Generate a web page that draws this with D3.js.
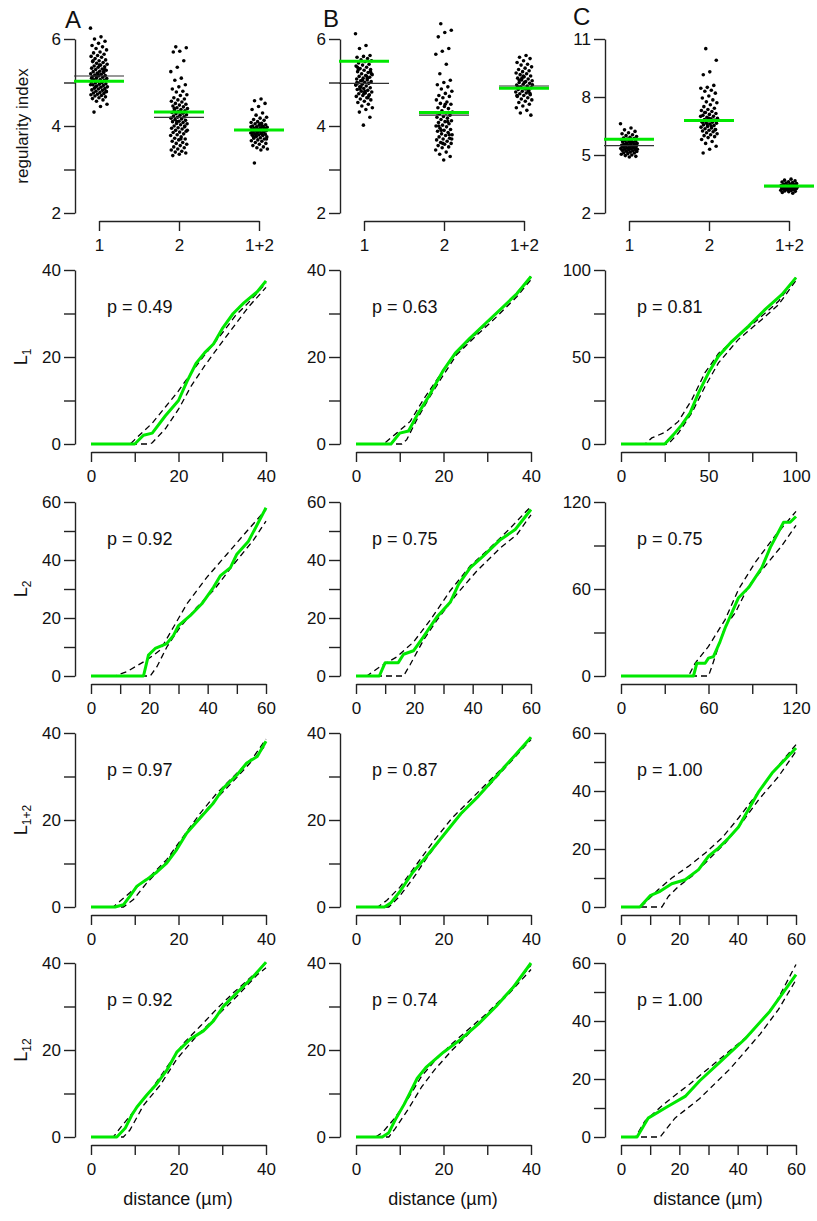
<!DOCTYPE html>
<html>
<head>
<meta charset="utf-8">
<script src="https://cdn.jsdelivr.net/npm/d3@7"></script>
<style>
body { margin: 0; background: #fff; }
svg text { font-family: "Liberation Sans", Arial, Helvetica, sans-serif; fill: #111; }
</style>
</head>
<body>
<svg id="fig" width="817" height="1221"></svg>
<script>
// ---- regularity index (top row) ----
const groups = ["1", "2", "1+2"];
const panelLetters = ["A", "B", "C"];

const riA1 = [6.25,6.05,6.0,5.95,5.9,5.85,5.82,5.78,5.75,5.7,5.68,5.65,5.62,5.6,5.58,5.55,5.52,5.5,5.48,5.46,5.44,5.42,5.4,5.38,5.36,5.35,5.33,5.31,5.3,5.28,5.26,5.25,5.23,5.22,5.2,5.19,5.17,5.16,5.15,5.13,5.12,5.1,5.09,5.07,5.06,5.05,5.03,5.02,5.0,4.99,4.97,4.96,4.95,4.93,4.92,4.9,4.89,4.87,4.86,4.85,4.83,4.82,4.8,4.79,4.77,4.76,4.75,4.73,4.72,4.7,4.69,4.67,4.65,4.63,4.6,4.57,4.5,4.45,4.32,5.3,5.2,5.1,5.0,4.9,4.8,5.4,5.5,5.25,5.15,4.95];
const riA2 = [5.82,5.8,5.72,5.7,5.5,5.35,5.25,5.1,5.05,4.95,4.9,4.85,4.8,4.78,4.72,4.7,4.65,4.62,4.6,4.57,4.55,4.52,4.5,4.48,4.46,4.44,4.42,4.4,4.38,4.36,4.35,4.33,4.31,4.3,4.28,4.26,4.25,4.23,4.21,4.2,4.18,4.16,4.15,4.13,4.11,4.1,4.08,4.06,4.05,4.03,4.0,3.98,3.96,3.95,3.93,3.9,3.88,3.86,3.85,3.82,3.8,3.78,3.75,3.72,3.7,3.68,3.65,3.62,3.6,3.58,3.55,3.52,3.5,3.47,3.45,3.42,3.4,3.38,3.35,3.32,4.3,4.1,3.9,3.7,4.4,4.0];
const riA3 = [4.62,4.58,4.52,4.45,4.38,4.3,4.25,4.2,4.18,4.15,4.13,4.1,4.08,4.06,4.05,4.03,4.02,4.0,3.99,3.98,3.97,3.96,3.95,3.94,3.93,3.92,3.91,3.9,3.89,3.88,3.87,3.86,3.85,3.84,3.83,3.82,3.81,3.8,3.79,3.78,3.76,3.75,3.73,3.72,3.7,3.68,3.66,3.65,3.62,3.6,3.58,3.55,3.52,3.5,3.47,3.45,3.15,3.95,3.9,3.85,4.0,3.8,3.7,4.05,3.75,3.88,3.92,3.98,3.82];
const riB1 = [6.12,5.85,5.78,5.62,5.6,5.58,5.55,5.52,5.5,5.48,5.45,5.42,5.4,5.38,5.35,5.32,5.3,5.28,5.25,5.23,5.2,5.18,5.16,5.14,5.12,5.1,5.08,5.06,5.04,5.02,5.0,4.99,4.98,4.96,4.94,4.92,4.9,4.88,4.86,4.84,4.82,4.8,4.78,4.76,4.74,4.72,4.7,4.68,4.65,4.62,4.6,4.57,4.54,4.5,4.46,4.42,4.38,4.32,4.2,4.02,5.0,5.1,4.9,5.2,4.8,5.3,4.7,5.05,4.95,5.15,4.85,5.25,4.75,5.35,4.65];
const riB2 = [6.35,6.2,6.15,6.05,5.78,5.72,5.65,5.42,5.2,5.05,5.0,4.95,4.9,4.85,4.8,4.75,4.7,4.68,4.65,4.6,4.55,4.52,4.5,4.45,4.42,4.4,4.35,4.32,4.3,4.28,4.25,4.22,4.2,4.18,4.15,4.12,4.1,4.08,4.05,4.02,4.0,3.98,3.95,3.92,3.9,3.88,3.85,3.82,3.8,3.78,3.75,3.72,3.7,3.68,3.65,3.62,3.6,3.58,3.55,3.52,3.5,3.45,3.4,3.35,3.3,3.22,4.3,4.1,3.9,3.7,4.5,4.0,3.8,3.6];
const riB3 = [5.62,5.58,5.55,5.5,5.46,5.42,5.4,5.36,5.33,5.3,5.27,5.25,5.22,5.2,5.18,5.15,5.13,5.1,5.08,5.06,5.04,5.02,5.0,4.98,4.96,4.94,4.92,4.9,4.88,4.86,4.84,4.82,4.8,4.78,4.76,4.74,4.72,4.7,4.68,4.65,4.62,4.6,4.57,4.54,4.5,4.46,4.42,4.36,4.3,4.25,5.0,4.9,4.8,5.1,4.95,4.85,5.05,4.75,5.15,4.7];
const riC1 = [6.62,6.4,6.3,6.22,6.15,6.1,6.05,6.0,5.96,5.92,5.88,5.85,5.82,5.8,5.77,5.75,5.72,5.7,5.68,5.65,5.62,5.6,5.58,5.56,5.54,5.52,5.5,5.48,5.46,5.44,5.42,5.4,5.38,5.36,5.34,5.32,5.3,5.28,5.26,5.24,5.22,5.2,5.18,5.15,5.12,5.1,5.07,5.04,5.0,4.97,4.93,4.9,5.5,5.4,5.6,5.3,5.7,5.45,5.55,5.35];
const riC2 = [10.5,9.9,9.3,9.15,8.6,8.5,8.45,8.35,8.3,8.2,8.05,7.95,7.85,7.75,7.7,7.6,7.5,7.42,7.35,7.3,7.25,7.2,7.15,7.1,7.05,7.0,6.95,6.9,6.87,6.84,6.8,6.77,6.74,6.7,6.67,6.64,6.6,6.56,6.52,6.48,6.44,6.4,6.36,6.32,6.28,6.24,6.2,6.15,6.1,6.05,6.0,5.95,5.9,5.8,5.7,5.6,5.45,5.3,5.1,6.8,6.6,7.0,6.5,7.2,6.3,6.9,6.7];
const riC3 = [3.75,3.7,3.66,3.62,3.6,3.57,3.55,3.52,3.5,3.48,3.46,3.44,3.42,3.41,3.4,3.39,3.38,3.37,3.36,3.35,3.34,3.33,3.32,3.31,3.3,3.29,3.28,3.27,3.26,3.25,3.24,3.22,3.2,3.18,3.16,3.14,3.12,3.1,3.06,3.02,3.35,3.3,3.4,3.25,3.45,3.2,3.38,3.32];

// green = expected, black = observed centre line
const riGreen = [[5.03, 4.32, 3.91], [5.49, 4.31, 4.87], [5.81, 6.78, 3.40]];
const riBlack = [[5.15, 4.20, 3.90], [4.98, 4.25, 4.92], [5.48, 6.75, 3.36]];
const riDomain = [[2, 6], [2, 6], [2, 11]];
const riTicks = [[2, 3, 4, 5, 6], [2, 3, 4, 5, 6], [2, 5, 8, 11]];
const riTickLabels = [[2, 4, 6], [2, 4, 6], [2, 5, 8, 11]];

// ---- L functions: [distance, L] ----
const l1A_obs = [[0,0],[10,0],[12,2],[14,2.5],[17,6.5],[20,10],[22,14.5],[24,18.5],[26,21],[28,23],[30,26.5],[32.5,30],[35,32.5],[38,35],[40,37.5]];
const l1A_hi = [[0,0],[9,0],[10,1],[14,4.8],[17,8.5],[20,12.2],[23,16.5],[26,20.5],[30,25.5],[33,29.5],[36,32.5],[40,37]];
const l1A_lo = [[0,0],[13.5,0],[14,0.3],[17,3.5],[20,8],[23,13.5],[26,18],[30,23.5],[33,27.5],[36,31.5],[40,36]];
const l1B_obs = [[0,0],[8,0],[10,2.5],[12,3],[14,6.7],[16.6,10.9],[20,17],[22.7,20.9],[26,24.3],[30,28.1],[33.7,31.6],[36.8,34.6],[40,38.5]];
const l1B_hi = [[0,0],[6.3,0],[9.3,2.5],[12.4,5.2],[15.4,10.2],[18.5,14.8],[21.5,19.3],[26,23.9],[30.7,28.5],[35.3,33.1],[40,38.5]];
const l1B_lo = [[0,0],[10.5,0],[11.6,1],[13.9,5.6],[16.9,10.9],[20,15.9],[23,20.5],[27.6,25],[32.2,29.3],[36.8,33.9],[40,37.8]];
const l1C_obs = [[0,0],[25,0],[30,5.4],[34.7,11],[39.5,17.9],[44.3,29.4],[50,40.9],[55.7,50.5],[63.4,59],[72.9,67.8],[82.4,77.4],[92,86],[100,95.6]];
const l1C_hi = [[0,0],[13.7,0],[17.6,3.5],[25.2,6.7],[32.8,13],[40.5,25.5],[48,41],[55.7,52],[67,62],[80.5,73.5],[90,82],[100,95.6]];
const l1C_lo = [[0,0],[27,0],[32.8,6.3],[40.5,17.9],[48,33],[55.7,46.6],[67,60],[80.5,71.6],[90,80],[100,94]];

const l2A_obs = [[0,0],[18,0],[19.7,7.2],[22,9.5],[26,11.2],[28.3,14],[30,17.4],[34,20.8],[38,24.9],[42,30.6],[44.3,34.5],[47.8,37.4],[50,42],[54,46.5],[60,58]];
const l2A_hi = [[0,0],[8.2,0],[12.3,1.5],[19.1,5.5],[23.7,8.9],[28.3,16.9],[32.9,24.9],[39.7,34],[46.6,42],[53.5,50],[60,57.4]];
const l2A_lo = [[0,0],[20.3,0],[22.6,3.2],[26,10],[30.6,16.9],[36.3,23.7],[42,29.5],[48.9,38.5],[55.8,47],[60,53.4]];
const l2B_obs = [[0,0],[8,0],[10,4.6],[14.5,4.6],[16.3,7.5],[19.7,8.7],[23.1,13.5],[27.7,20.3],[32.3,25.4],[35.2,31.7],[39.2,37.4],[43.7,41.4],[49.5,47],[54.6,50.5],[60,57.4]];
const l2B_hi = [[0,0],[3.7,0],[8.2,3.2],[14,6.6],[19.7,11.7],[25.4,19.2],[32.3,29.4],[39.2,38],[46,44.2],[52.9,51],[60,58.5]];
const l2B_lo = [[0,0],[16.3,0],[18.5,3.8],[23.1,12.3],[27.7,19.2],[34.6,28.3],[41.5,36.3],[49.5,44.2],[55.2,48.8],[60,55.6]];
const l2C_obs = [[0,0],[49.7,0],[52,8.8],[57.7,8.8],[60,12.3],[63.4,13.4],[68,23.9],[71.4,33.1],[76,43.5],[80.6,54],[87.5,61],[96.6,74.8],[102.4,88.7],[111.5,106],[116,106],[120,110]];
const l2C_hi = [[0,0],[46.3,0],[50.8,8.8],[60,20.4],[71.4,38.9],[80.6,59.8],[92,78.3],[105.8,96.8],[120,113.5]];
const l2C_lo = [[0,0],[60,0],[62.3,6.5],[71.4,34.3],[78.3,43.5],[87.5,62],[99,76],[110.4,90],[120,103.8]];

const l1p2A_obs = [[0,0],[5.5,0],[7.4,0.5],[8.9,2.5],[10.5,4.8],[12.7,6.3],[15,8],[17.3,10.1],[19.6,13.2],[21.9,17],[25,20.5],[28,23.9],[30.3,27.4],[33.4,30.4],[35.6,33.1],[38,34.6],[40,38.1]];
const l1p2A_hi = [[0,0],[5.1,0],[6.6,1.3],[9.7,4],[13.5,7],[17.3,10.9],[21.1,16.2],[25,21.6],[28.8,26.2],[32.6,30],[37.2,34.6],[40,38.6]];
const l1p2A_lo = [[0,0],[7.4,0],[9.7,1.7],[12.7,5.5],[16.6,9.5],[19.6,13.7],[23.4,19],[28,24.2],[32.6,29],[37.2,34],[40,37.3]];
const l1p2B_obs = [[0,0],[6.5,0],[8,1],[10,3.5],[13,8],[16,11.5],[20,16.5],[24,21.5],[28,25.5],[32,30],[36,34.5],[40,39]];
const l1p2B_hi = [[0,0],[5,0],[7,1.5],[10,4.5],[14,10],[18,15.5],[22,20.5],[26,24.5],[30,28.5],[35,33.5],[40,39]];
const l1p2B_lo = [[0,0],[7.5,0],[10,2.5],[13,6.5],[16,11],[20,16.5],[25,22.5],[30,27.5],[35,33],[40,38.5]];
const l1p2C_obs = [[0,0],[6.5,0],[10,3.9],[13.4,5.4],[17.4,8],[22,9.4],[26.6,12.9],[30,17.5],[33.4,20.3],[36.9,23.8],[40.3,27.6],[43.7,33.6],[47.3,39.9],[51.8,46.2],[60,54.8]];
const l1p2C_hi = [[0,0],[6.8,0],[8.2,1.4],[12.8,6],[17.4,10],[23.1,14],[28.9,18.6],[34.6,23.8],[40.3,30.7],[46,38.2],[51.8,46.2],[60,56]];
const l1p2C_lo = [[0,0],[14,0],[16.3,3.7],[19.7,7.1],[24.3,10.6],[30,16.3],[35.7,22],[41.4,29],[47.2,37],[54,45],[60,53.7]];

const l12A_obs = [[0,0],[5.9,0],[7.8,2],[9.3,5],[10.5,6.9],[12.7,9.6],[15,12.2],[17.3,15.3],[19.6,19.5],[22.7,22.5],[25.7,24.4],[28,26.7],[30.3,30.1],[34.1,33.9],[37.2,37],[40,40.2]];
const l12A_hi = [[0,0],[5.1,0],[6.6,2],[9.7,5.8],[13.5,10.5],[17.3,16],[21.1,21.5],[25,25.5],[28.8,29.5],[32.6,33.2],[37.2,37.3],[40,40]];
const l12A_lo = [[0,0],[7.4,0],[8.9,1.6],[12,7.3],[15.8,11.9],[19.6,17.9],[24.2,23.3],[28.8,27.8],[33.4,32.4],[38,37.3],[40,38.9]];
const l12B_obs = [[0,0],[6,0],[7.5,1],[9,4],[11,7.5],[12.5,10.5],[14,13.5],[16,16],[20,19.5],[24,22.5],[28,26],[32,30],[36,34.5],[40,40]];
const l12B_hi = [[0,0],[4.5,0],[6,1],[9,4.5],[12,9],[15,14],[18,17.5],[22,21.5],[26,25],[30,28.5],[35,33.5],[40,39.5]];
const l12B_lo = [[0,0],[7.5,0],[9,2],[12,6.5],[15,11.5],[18,15.5],[22,20],[26,24],[30,28],[35,33],[40,38.5]];
const l12C_obs = [[0,0],[5.5,0],[9.3,6.5],[16,10.5],[22,14],[27,19.4],[34,25.9],[42.5,33.8],[51,43.3],[60,56]];
const l12C_hi = [[0,0],[5,0],[8.2,5.5],[15,11.6],[23.7,18.4],[33.9,26.9],[44.2,35.5],[52.8,45.7],[60,59.5]];
const l12C_lo = [[0,0],[13.4,0],[18.5,6.5],[27,13.3],[37.4,23.5],[47.7,35.5],[54,44],[60,54.2]];

const lMax = [[40, 40, 100], [60, 60, 120], [40, 40, 60], [40, 40, 60]];
const lStep = [[20, 20, 50], [20, 20, 60], [20, 20, 20], [20, 20, 20]];
const pValues = [["0.49", "0.63", "0.81"], ["0.92", "0.75", "0.75"], ["0.97", "0.87", "1.00"], ["0.92", "0.74", "1.00"]];
const rowLabels = [["L", "1"], ["L", "2"], ["L", "1+2"], ["L", "12"]];

const lData = [
  [[l1A_obs, l1A_hi, l1A_lo], [l1B_obs, l1B_hi, l1B_lo], [l1C_obs, l1C_hi, l1C_lo]],
  [[l2A_obs, l2A_hi, l2A_lo], [l2B_obs, l2B_hi, l2B_lo], [l2C_obs, l2C_hi, l2C_lo]],
  [[l1p2A_obs, l1p2A_hi, l1p2A_lo], [l1p2B_obs, l1p2B_hi, l1p2B_lo], [l1p2C_obs, l1p2C_hi, l1p2C_lo]],
  [[l12A_obs, l12A_hi, l12A_lo], [l12B_obs, l12B_hi, l12B_lo], [l12C_obs, l12C_hi, l12C_lo]]
];
const riData = [[riA1, riA2, riA3], [riB1, riB2, riB3], [riC1, riC2, riC3]];

// ---- layout ----
const colX = [75, 340, 605];          // y-axis positions
const rowTop = [39, 270, 502, 733, 963];
const panelH = 174;
const green = "#00e800";
const axisCol = "#222";
const fs = 17;

const svg = d3.select("#fig");

function styleAxis(g) {
  g.select(".domain").attr("stroke", axisCol).attr("stroke-width", 1.4);
  g.selectAll(".tick line").attr("stroke", axisCol).attr("stroke-width", 1.4);
  g.selectAll(".tick text").attr("font-size", fs).attr("fill", "#111");
}

// panel letters
const letterX = [65, 323, 573];
const letterY = [28, 27, 25];
panelLetters.forEach(function(l, i) {
  svg.append("text").attr("x", letterX[i]).attr("y", letterY[i])
    .attr("font-size", 24).text(l);
});

// ---- top row: regularity index ----
riData.forEach(function(cols, c) {
  const ax = colX[c];
  const top = rowTop[0], bottom = top + panelH;
  const y = d3.scaleLinear().domain(riDomain[c]).range([bottom, top]);
  const x = d3.scalePoint().domain(groups).range([ax + 24, ax + 184]);
  const g = svg.append("g");

  const yAxis = d3.axisLeft(y).tickValues(riTicks[c]).tickSize(11).tickSizeOuter(0).tickPadding(3)
    .tickFormat(d => riTickLabels[c].includes(d) ? d : "");
  g.append("g").attr("transform", "translate(" + ax + ",0)").call(yAxis).call(styleAxis);

  const xAxis = d3.axisBottom(x).tickSize(10).tickSizeOuter(0).tickPadding(8);
  g.append("g").attr("transform", "translate(0," + (bottom + 8) + ")").call(xAxis).call(styleAxis);

  cols.forEach(function(vals, k) {
    const cx = x(groups[k]);
    g.append("g").selectAll("circle")
      .data(vals).enter().append("circle")
      .attr("cx", (d, i) => cx + (((i * 0.618034 + k * 0.31) % 1) - 0.5) * 17)
      .attr("cy", d => y(d))
      .attr("r", 1.8)
      .attr("fill", "#000");
    g.append("line")
      .attr("x1", cx - 25).attr("x2", cx + 25)
      .attr("y1", y(riBlack[c][k])).attr("y2", y(riBlack[c][k]))
      .attr("stroke", "#333").attr("stroke-width", 1.2);
    g.append("line")
      .attr("x1", cx - 25).attr("x2", cx + 25)
      .attr("y1", y(riGreen[c][k])).attr("y2", y(riGreen[c][k]))
      .attr("stroke", green).attr("stroke-width", 3);
  });

  if (c === 0) {
    svg.append("text")
      .attr("transform", "translate(28," + ((top + bottom) / 2) + ") rotate(-90)")
      .attr("text-anchor", "middle").attr("font-size", fs)
      .text("regularity index");
  }
});

// ---- L-function rows ----
lData.forEach(function(row, r) {
  const top = rowTop[r + 1], bottom = top + panelH;
  row.forEach(function(series, c) {
    const ax = colX[c];
    const max = lMax[r][c], step = lStep[r][c];
    const x = d3.scaleLinear().domain([0, max]).range([ax + 16, ax + 191]);
    const y = d3.scaleLinear().domain([0, max]).range([bottom, top]);
    const allTicks = d3.range(0, max + 0.001, step / 2);
    const fmt = d => (Math.abs(d / step - Math.round(d / step)) < 1e-6 ? d : "");
    const g = svg.append("g");

    g.append("g").attr("transform", "translate(" + ax + ",0)")
      .call(d3.axisLeft(y).tickValues(allTicks).tickFormat(fmt).tickSize(11).tickSizeOuter(0).tickPadding(3))
      .call(styleAxis);
    g.append("g").attr("transform", "translate(0," + (bottom + 8) + ")")
      .call(d3.axisBottom(x).tickValues(allTicks).tickFormat(fmt).tickSize(10).tickSizeOuter(0).tickPadding(8))
      .call(styleAxis);

    const line = d3.line().x(d => x(d[0])).y(d => y(d[1]));
    [series[1], series[2]].forEach(function(env) {
      g.append("path").datum(env).attr("d", line)
        .attr("fill", "none").attr("stroke", "#000")
        .attr("stroke-width", 1.3).attr("stroke-dasharray", "6,4");
    });
    g.append("path").datum(series[0]).attr("d", line)
      .attr("fill", "none").attr("stroke", green)
      .attr("stroke-width", 3).attr("stroke-linejoin", "round");

    g.append("text").attr("x", ax + 32).attr("y", top + 43)
      .attr("font-size", fs + 1).text("p = " + pValues[r][c]);

    if (r === lData.length - 1) {
      g.append("text").attr("x", ax + 103).attr("y", bottom + 68)
        .attr("text-anchor", "middle").attr("font-size", fs + 1)
        .text("distance (\u00b5m)");
    }
  });

  const lab = svg.append("text")
    .attr("transform", "translate(27," + (top + panelH / 2) + ") rotate(-90)")
    .attr("text-anchor", "middle").attr("font-size", fs + 1);
  lab.append("tspan").text(rowLabels[r][0]);
  lab.append("tspan").attr("font-size", 12).attr("dy", 4).text(rowLabels[r][1]);
});
</script>
</body>
</html>
